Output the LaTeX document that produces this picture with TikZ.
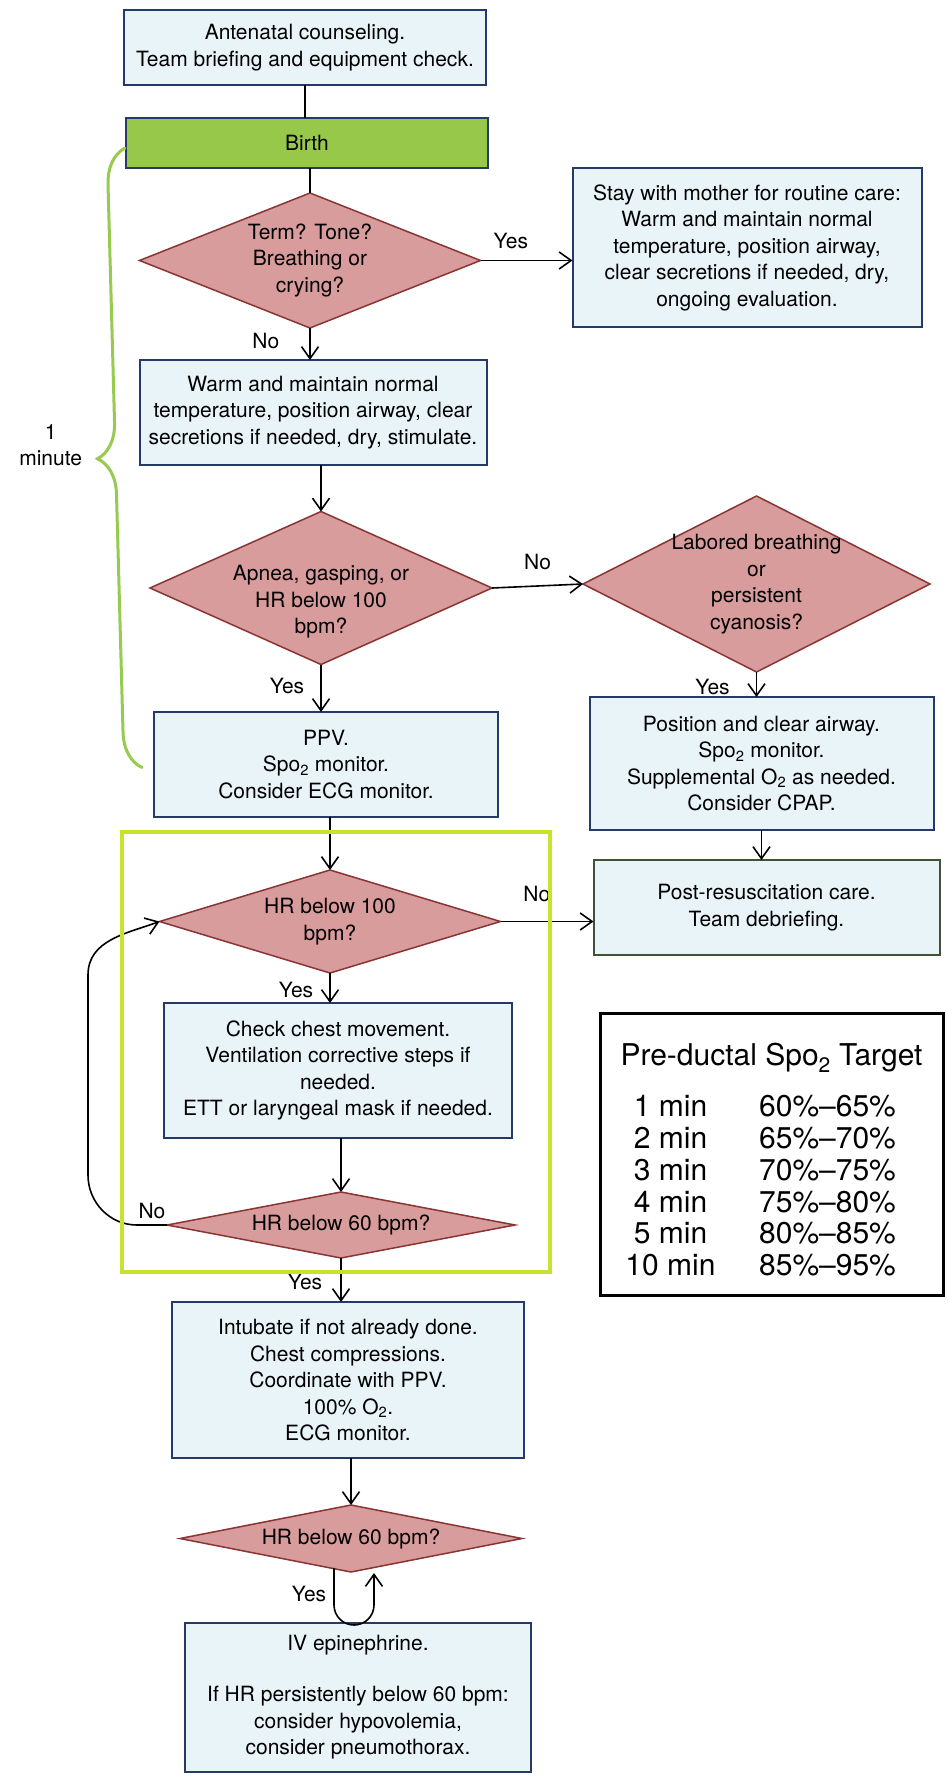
\documentclass[tikz,border=0pt]{standalone}
\usepackage{fontspec}
\setmainfont{TeX Gyre Heros}
\usetikzlibrary{
  arrows.meta,
  calc,
  decorations.pathreplacing,
  positioning,
  shapes.geometric,
}
\definecolor{boxfill}{RGB}{233,244,249}
\definecolor{boxline}{RGB}{38,58,104}
\definecolor{postline}{RGB}{62,84,52}
\definecolor{decfill}{RGB}{216,156,156}
\definecolor{decline}{RGB}{138,52,52}
\definecolor{birthfill}{RGB}{152,200,74}
\definecolor{bracegreen}{RGB}{150,202,80}
\definecolor{framelime}{RGB}{200,226,46}
\tikzset{
  >={Straight Barb[length=12pt,width=17pt]},
  flowbox/.style={rectangle,draw=boxline,fill=boxfill,line width=2pt,outer sep=0pt,align=center,inner sep=3pt,font=\fontsize{21}{26.5}\selectfont},
  birthbox/.style={flowbox,fill=birthfill},
  decision/.style={diamond,draw=decline,fill=decfill,line width=1.5pt,outer sep=0pt,align=center,inner sep=-6pt,font=\fontsize{21}{26.5}\selectfont},
  lbl/.style={inner sep=1pt,font=\fontsize{21}{26.5}\selectfont},
  flow/.style={->,line width=1.6pt},
  plain/.style={line width=1.6pt},
  minutebrace/.style={decorate,decoration={brace,amplitude=36pt,aspect=0.5},draw=bracegreen,line width=3pt,line cap=round},
  loopframe/.style={draw=framelime,line width=4pt,outer sep=0pt},
  targetbox/.style={draw,line width=3pt,outer sep=0pt},
  targettext/.style={inner sep=1pt,text height=21.5pt,text depth=0pt,font=\fontsize{30}{31.8}\selectfont},
}

\begin{document}
\begin{tikzpicture}[x=1pt,y=1pt,node distance=0pt and 0pt]
  \useasboundingbox (0,0) rectangle (947,-1776);

  % left column
  \node[flowbox,minimum width=362,minimum height=75] (counsel) at (305,-47.5) {Antenatal counseling.\\Team briefing and equipment check.};
  \node[birthbox,minimum width=362,minimum height=50,xshift=2,yshift=-33] (birth) [below=of counsel] {Birth};
  \node[decision,minimum width=341,minimum height=135,aspect=2.5,xshift=3,yshift=-25] (term) [below=of birth] {Term? Tone?\\Breathing or\\crying?};
  \node[flowbox,minimum width=347,minimum height=105,xshift=3,yshift=-32] (warm) [below=of term] {Warm and maintain normal\\temperature, position airway, clear\\secretions if needed, dry, stimulate.};
  \node[decision,minimum width=342,minimum height=153,aspect=2.24,inner sep=-12pt,text height=96pt,text depth=4.4pt,xshift=8,yshift=-46.5] (apnea) [below=of warm] {Apnea, gasping, or\\HR below 100\\bpm?};
  \node[flowbox,minimum width=344,minimum height=105,xshift=5,yshift=-47.5] (ppv) [below=of apnea] {PPV.\\Spo\textsubscript{2} monitor.\\Consider ECG monitor.};
  \node[decision,minimum width=341,minimum height=103,aspect=3.3,xshift=4,yshift=-53] (hr100) [below=of ppv] {HR below 100\\bpm?};
  \node[flowbox,minimum width=348,minimum height=135,xshift=8,yshift=-30] (check) [below=of hr100] {Check chest movement.\\Ventilation corrective steps if\\needed.\\ETT or laryngeal mask if needed.};
  \node[decision,minimum width=348,minimum height=66,aspect=5.27,xshift=3,yshift=-54] (hr60) [below=of check] {HR below 60 bpm?};
  \node[flowbox,minimum width=352,minimum height=156,xshift=7,yshift=-44] (intub) [below=of hr60] {Intubate if not already done.\\Chest compressions.\\Coordinate with PPV.\\100\% O\textsubscript{2}.\\ECG monitor.};
  \node[decision,minimum width=342,minimum height=67,aspect=5.1,xshift=3,yshift=-47] (hr60b) [below=of intub] {HR below 60 bpm?};
  \node[flowbox,minimum width=346,minimum height=149,xshift=7,yshift=-51] (epi) [below=of hr60b] {IV epinephrine.\\[24.5pt]If HR persistently below 60 bpm:\\consider hypovolemia,\\consider pneumothorax.};

  % right column
  \node[flowbox,minimum width=349,minimum height=159,xshift=92,yshift=13] (routine) [right=of term] {Stay with mother for routine care:\\Warm and maintain normal\\temperature, position airway,\\clear secretions if needed, dry,\\ongoing evaluation.};
  \node[decision,minimum width=347,minimum height=176,aspect=1.97,xshift=91,yshift=4] (labored) [right=of apnea] {Labored breathing\\or\\persistent\\cyanosis?};
  \node[flowbox,minimum width=344,minimum height=133,xshift=5,yshift=-25] (cpap) [below=of labored] {Position and clear airway.\\Spo\textsubscript{2} monitor.\\Supplemental O\textsubscript{2} as needed.\\Consider CPAP.};
  \node[flowbox,draw=postline,minimum width=346,minimum height=95,xshift=5,yshift=-30] (post) [below=of cpap] {Post-resuscitation care.\\Team debriefing.};

  % target table
  \node[targetbox,minimum width=343,minimum height=282,xshift=5,yshift=-58] (target) [below=of post] {};
  \node[targettext] (targettitle) at ($(target.north)+(0,-42)$) {Pre-ductal Spo\textsubscript{2} Target};
  \foreach \mins/\range [count=\i] in {1 min/60\%--65\%,2 min/65\%--70\%,3 min/70\%--75\%,4 min/75\%--80\%,5 min/80\%--85\%,10 min/85\%--95\%}{
    \node[targettext] (mins\i) at ($(target.north)+(-101,{-61.2-31.8*\i})$) {\mins};
    \node[targettext] (range\i) at ($(target.north)+(56,{-61.2-31.8*\i})$) {\range};
  }

  % connectors
  \draw[plain] (counsel.south) -- (counsel.south |- birth.north);
  \draw[plain] (term.north |- birth.south) -- (term.north);
  \draw[flow] (term.east) -- node[lbl,above=10,pos=0.33] {Yes} (term.east -| routine.west);
  \draw[flow] (term.south) -- node[lbl,left=29,pos=0.4] {No} (term.south |- warm.north);
  \draw[flow] (apnea.north |- warm.south) -- (apnea.north);
  \draw[flow] (apnea.east) -- node[lbl,above=14] {No} (labored.west);
  \draw[flow] (apnea.south) -- node[lbl,left=15,pos=0.45] {Yes} (apnea.south |- ppv.north);
  \draw[flow] (labored.south) -- node[lbl,left=25,pos=0.6] {Yes} (labored.south |- cpap.north);
  \draw[flow] (cpap.south) -- (cpap.south |- post.north);
  \draw[flow] (hr100.north |- ppv.south) -- (hr100.north);
  \draw[flow] (hr100.east) -- node[lbl,above=18,pos=0.39] {No} (hr100.east -| post.west);
  \draw[flow] (hr100.south) -- node[lbl,left=15,pos=0.55] {Yes} (hr100.south |- check.north);
  \draw[flow] (hr60.north |- check.south) -- (hr60.north);
  \draw[flow] (hr60.west) -- node[lbl,above=4] {No} ++(-30,0) to[out=180,in=-90] ++(-49,50) -- ++(0,200) to[out=90,in=200] (hr100.west);
  \draw[flow] (hr60.south) -- node[lbl,left=17,pos=0.55] {Yes} (hr60.south |- intub.north);
  \draw[flow] (hr60b.north |- intub.south) -- (hr60b.north);
  \draw[flow] ([shift={(-17,4)}]hr60b.south) -- node[lbl,left=6,pos=0.7] {Yes} ++(0,-37) arc[start angle=180,end angle=360,radius=20] -- ++(0,32);

  % one minute brace
  \coordinate (bracetop) at ([shift={(-1,-5)}]birth.west);
  \coordinate (bracebot) at ([shift={(-12,-3)}]ppv.west);
  \draw[minutebrace] (bracebot) -- node[lbl,align=center,left=49,yshift=12.5] {1\\minute} (bracetop);

  % loop frame
  \node[loopframe,minimum width=428,minimum height=440] (frame) at (336,-1052) {};
\end{tikzpicture}
\end{document}
